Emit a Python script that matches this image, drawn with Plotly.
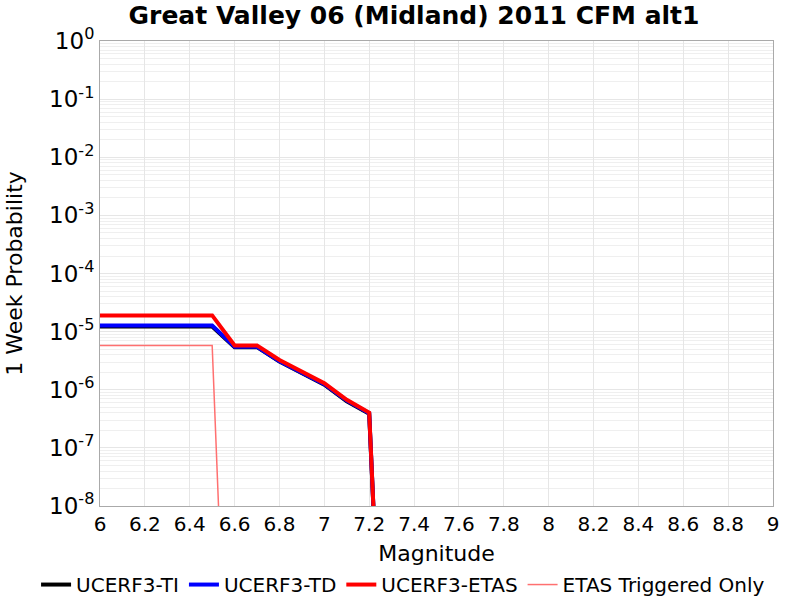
import plotly.graph_objects as go

mags = [6.0, 6.1, 6.2, 6.3, 6.4, 6.5, 6.6, 6.7, 6.8, 6.9, 7.0, 7.1, 7.2, 7.3]
ti = [1.22e-5, 1.22e-5, 1.22e-5, 1.22e-5, 1.22e-5, 1.22e-5, 5.4e-6, 5.4e-6, 3.05e-6, 1.95e-6, 1.22e-6, 6.3e-7, 3.85e-7, 1e-15]
td = [1.27e-5, 1.27e-5, 1.27e-5, 1.27e-5, 1.27e-5, 1.27e-5, 5.5e-6, 5.5e-6, 3.1e-6, 2.0e-6, 1.25e-6, 6.5e-7, 3.95e-7, 1e-15]
etas = [1.9e-5, 1.9e-5, 1.9e-5, 1.9e-5, 1.9e-5, 1.9e-5, 5.8e-6, 5.8e-6, 3.25e-6, 2.05e-6, 1.3e-6, 6.7e-7, 4.05e-7, 1e-15]
trig_mags = [6.0, 6.1, 6.2, 6.3, 6.4, 6.5, 6.6]
trig = [5.8e-6, 5.8e-6, 5.8e-6, 5.8e-6, 5.8e-6, 5.8e-6, 1e-15]

x_ticks = [6, 6.2, 6.4, 6.6, 6.8, 7, 7.2, 7.4, 7.6, 7.8, 8, 8.2, 8.4, 8.6, 8.8, 9]
x_labels = ["6", "6.2", "6.4", "6.6", "6.8", "7", "7.2", "7.4", "7.6", "7.8", "8", "8.2", "8.4", "8.6", "8.8", "9"]
y_exps = [0, -1, -2, -3, -4, -5, -6, -7, -8]

fig = go.Figure()
fig.add_trace(go.Scatter(x=mags, y=ti, mode="lines", name="UCERF3-TI",
                         line=dict(color="black", width=4)))
fig.add_trace(go.Scatter(x=mags, y=td, mode="lines", name="UCERF3-TD",
                         line=dict(color="#0000ff", width=4)))
fig.add_trace(go.Scatter(x=mags, y=etas, mode="lines", name="UCERF3-ETAS",
                         line=dict(color="#ff0000", width=4)))
fig.add_trace(go.Scatter(x=trig_mags, y=trig, mode="lines", name="ETAS Triggered Only",
                         line=dict(color="#ff7070", width=1.5)))

minor_vals = [m * 10.0 ** e for e in range(-8, 0) for m in range(2, 10)]

fig.update_layout(
    width=800, height=600,
    margin=dict(l=100, r=27, t=41, b=94, autoexpand=False),
    paper_bgcolor="white", plot_bgcolor="white",
    font=dict(family="DejaVu Sans", color="black"),
    title=dict(text="<b>Great Valley 06 (Midland) 2011 CFM alt1</b>",
               x=0.5175, xanchor="center", y=0.975, yanchor="middle",
               font=dict(size=25, family="DejaVu Sans", color="black")),
    xaxis=dict(range=[6, 9], tickvals=x_ticks, ticktext=x_labels,
               showgrid=True, gridcolor="#e6e6e6", gridwidth=1,
               zeroline=False, showline=True, linecolor="#aaaaaa", mirror=True,
               ticks="", tickfont=dict(size=20),
               title=dict(text="Magnitude", font=dict(size=22), standoff=10)),
    yaxis=dict(type="log", range=[-8, 0],
               tickvals=[10.0 ** e for e in y_exps],
               ticktext=["10<sup>%d</sup>" % e for e in y_exps],
               showgrid=True, gridcolor="#e6e6e6", gridwidth=1,
               minor=dict(tickvals=minor_vals, showgrid=True, gridcolor="#efefef", ticks=""),
               zeroline=False, showline=True, linecolor="#aaaaaa", mirror=True,
               ticks="", tickfont=dict(size=23),
               title=dict(text="1 Week Probability", font=dict(size=22), standoff=20)),
    legend=dict(orientation="h", x=-0.095, xanchor="left", y=-0.127, yanchor="top",
                font=dict(size=20), itemwidth=30, tracegroupgap=0,
                bgcolor="rgba(0,0,0,0)"),
    showlegend=True,
)

fig.write_html("out.html")
